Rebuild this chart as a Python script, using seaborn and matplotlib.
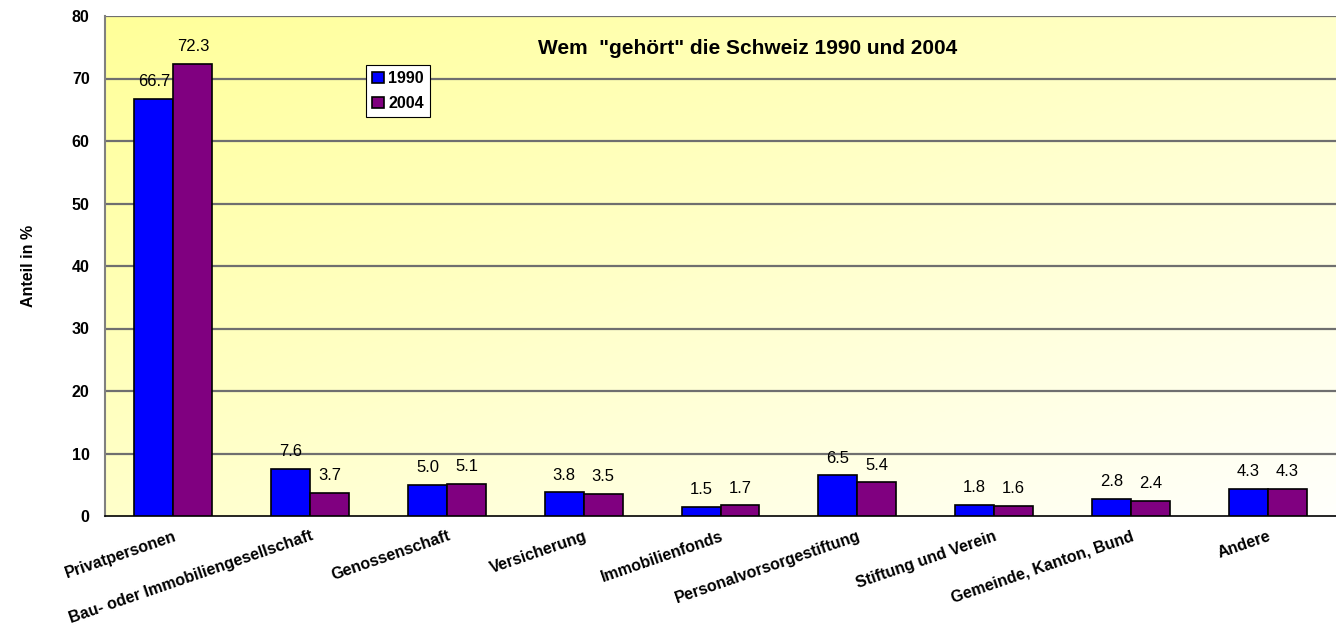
import numpy as np
import pandas as pd
import matplotlib
matplotlib.use("Agg")
import matplotlib.pyplot as plt
import seaborn as sns
from matplotlib.colors import LinearSegmentedColormap

categories = [
    "Privatpersonen",
    "Bau- oder Immobiliengesellschaft",
    "Genossenschaft",
    "Versicherung",
    "Immobilienfonds",
    "Personalvorsorgestiftung",
    "Stiftung und Verein",
    "Gemeinde, Kanton, Bund",
    "Andere",
]
share_1990 = [66.7, 7.6, 5.0, 3.8, 1.5, 6.5, 1.8, 2.8, 4.3]
share_2004 = [72.3, 3.7, 5.1, 3.5, 1.7, 5.4, 1.6, 2.4, 4.3]
years = ["1990", "2004"]
y_ticks = [0, 10, 20, 30, 40, 50, 60, 70, 80]

df = pd.DataFrame({
    "Kategorie": categories * 2,
    "Jahr": [years[0]] * len(categories) + [years[1]] * len(categories),
    "Anteil": share_1990 + share_2004,
})

sns.set_style("white")
plt.rcParams["font.family"] = ["Liberation Sans", "DejaVu Sans"]
plt.rcParams["text.color"] = "black"
plt.rcParams["axes.labelcolor"] = "black"
plt.rcParams["xtick.color"] = "black"
plt.rcParams["ytick.color"] = "black"

fig = plt.figure(figsize=(13.36, 6.43), dpi=100)
ax = fig.add_axes([105 / 1336, 1 - 516 / 643, 1 - 105 / 1336, 500 / 643])

# diagonal gradient: yellow top-left -> almost white bottom-right
n = 256
xx, yy = np.meshgrid(np.linspace(0, 1, n), np.linspace(0, 1, n))
grad = (xx + yy) / 2
cmap = LinearSegmentedColormap.from_list("bg", ["#FFFF99", "#FFFFFC"])
ax.imshow(grad, cmap=cmap, extent=(0, 1, 0, 1), transform=ax.transAxes,
          aspect="auto", zorder=0, origin="upper")

sns.barplot(data=df, x="Kategorie", y="Anteil", hue="Jahr", hue_order=years,
            palette={"1990": "#0000FF", "2004": "#800080"}, width=0.57,
            edgecolor="black", linewidth=1.2, saturation=1, ax=ax, zorder=3)

for cont in ax.containers:
    ax.bar_label(cont, fmt="%.1f", padding=7, fontsize=12, zorder=4)

ax.set_xlim(-0.5, len(categories) - 0.5)
ax.set_ylim(0, 80)
ax.set_yticks(y_ticks)
ax.set_yticklabels([str(t) for t in y_ticks], fontweight="bold", fontsize=11.5)
for t in y_ticks[1:]:
    ax.axhline(t, color="#6f6f6f", linewidth=1.6, zorder=1)

ax.set_xticks(np.arange(len(categories)))
ax.set_xticklabels(categories, rotation=19, ha="right", rotation_mode="anchor",
                   fontweight="bold", fontsize=11.5)
ax.tick_params(axis="x", length=0, pad=9)
# boundary tick marks between categories
ax.set_xticks(np.arange(len(categories)) + 0.5, minor=True)
ax.tick_params(axis="x", which="minor", length=6, width=1, direction="out", color="black")
ax.tick_params(axis="y", length=5, width=1, direction="out", color="black", pad=6)

ax.set_xlabel("")
ax.set_ylabel("Anteil in %", fontweight="bold", fontsize=11.5, labelpad=26)

for side in ["top", "right"]:
    ax.spines[side].set_visible(False)
ax.spines["left"].set_color("#808080")
ax.spines["left"].set_linewidth(1.5)
ax.spines["bottom"].set_color("black")
ax.spines["bottom"].set_linewidth(1.2)

ax.text(0.522, 0.935, 'Wem  "gehört" die Schweiz 1990 und 2004', transform=ax.transAxes,
        ha="center", va="center", fontweight="bold", fontsize=15)

leg = ax.legend(loc="upper left", bbox_to_anchor=(261 / 1231, 0.902), frameon=True,
                fancybox=False, edgecolor="black", framealpha=1, title=None,
                prop={"weight": "bold", "size": 11.5}, handlelength=0.7, handleheight=0.7,
                handletextpad=0.3, borderpad=0.4, labelspacing=0.6, borderaxespad=0)
leg.get_frame().set_linewidth(0.8)

fig.savefig("out.png", dpi=100)
